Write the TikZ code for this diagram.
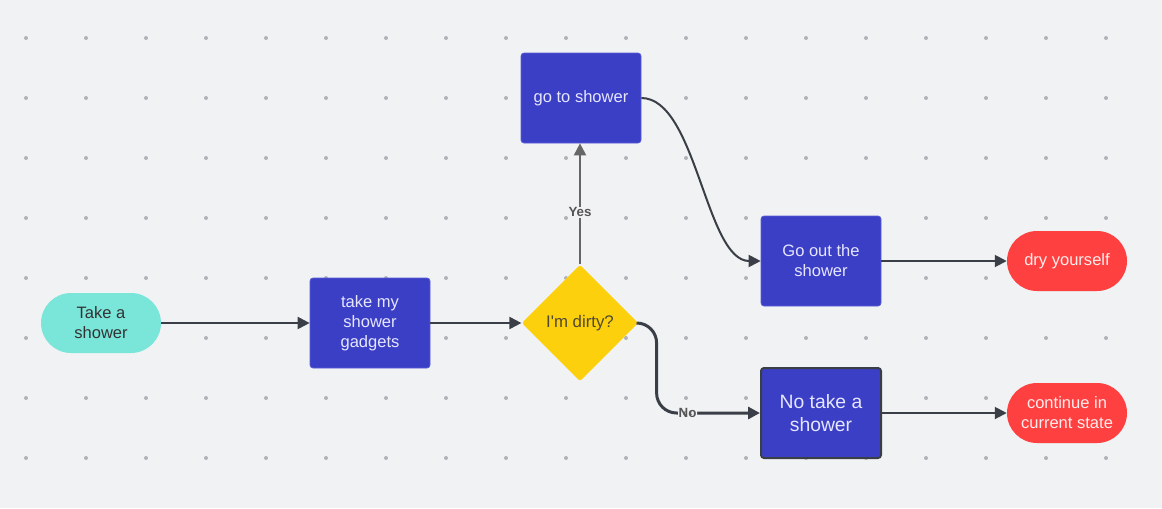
\documentclass[tikz,border=0pt]{standalone}
\usepackage{fontspec}
\setmainfont{Liberation Sans}
\usetikzlibrary{shapes.geometric,arrows.meta}
\definecolor{bgc}{HTML}{F1F2F4}
\definecolor{dotc}{HTML}{B2B3B8}
\definecolor{bluec}{HTML}{3B3FC5}
\definecolor{blueb}{HTML}{5A5ED6}
\definecolor{tealc}{HTML}{7AE6DA}
\definecolor{redc}{HTML}{FF4040}
\definecolor{yelc}{HTML}{FCD00C}
\definecolor{linec}{HTML}{3A3F47}
\definecolor{grayl}{HTML}{666666}
\definecolor{lavt}{HTML}{E6E6FF}
\definecolor{darkt}{HTML}{333333}
\definecolor{olivet}{HTML}{4F4A30}
\definecolor{redt}{HTML}{FFECEC}
\definecolor{lblt}{HTML}{555555}
\begin{document}
\begin{tikzpicture}[x=0.75pt,y=-0.75pt,
  proc/.style={rectangle,fill=bluec,draw=blueb,line width=0.5pt,rounded corners=2.25pt,
    minimum width=90pt,minimum height=67.5pt,inner sep=0pt,align=center,text=lavt,
    font=\fontsize{12.4}{15}\selectfont},
  termt/.style={rectangle,fill=tealc,rounded corners=22.5pt,minimum width=90pt,minimum height=45pt,
    inner sep=0pt,align=center,text=darkt,font=\fontsize{12.4}{15}\selectfont},
  termr/.style={rectangle,fill=redc,rounded corners=22.5pt,minimum width=90pt,minimum height=45pt,
    inner sep=0pt,align=center,text=redt,font=\fontsize{12.4}{15}\selectfont},
  dec/.style={diamond,aspect=1,fill=yelc,rounded corners=2pt,minimum width=87.5pt,minimum height=87.5pt,
    inner sep=0pt,text=olivet,font=\fontsize{12.6}{15}\selectfont},
  conn/.style={draw=linec,line width=1.5pt,-{Triangle[length=9pt,width=9pt]}},
  lbl/.style={fill=bgc,inner sep=0.5pt,text=lblt,font=\bfseries\fontsize{10}{12}\selectfont}
]
\fill[bgc] (0,0) rectangle (1162,508);
\useasboundingbox (0,0) rectangle (1162,508);
\foreach \i in {0,...,18}{
  \foreach \j in {0,...,7}{
    \fill[dotc] ({26+60*\i},{38+60*\j}) circle (1.5pt);
  }
}
\node[termt] (start) at (101,323) {Take a\\shower};
\node[proc] (gadg) at (370,323) {take my\\shower\\gadgets};
\node[dec] (dirty) at (580,323) {I\textquotesingle m dirty?};
\node[proc] (go) at (581,98) {go to shower};
\node[proc] (out) at (821,261) {Go out the\\shower};
\node[proc,draw=linec,line width=1.5pt,font=\fontsize{14.5}{17}\selectfont] (no) at (821,413) {No take a\\shower};
\node[termr] (dry) at (1067,261) {dry yourself};
\node[termr] (cont) at (1067,413) {continue in\\current state};

\draw[conn] (start) -- (gadg);
\draw[conn] (gadg) -- (dirty);
\draw[conn,draw=grayl,-{Triangle[length=9pt,width=9pt,fill=grayl]}] (dirty.north) -- node[lbl,pos=0.43] {Yes} (dirty.north |- go.south);
\draw[conn] (go.east) .. controls +(55,0) and +(-55,0) .. (out.west);
\draw[conn,line width=2.25pt,rounded corners=15pt] (dirty.east) -- ++(18,0) |- node[lbl,pos=0.65] {No} (no.west);
\draw[conn] (out) -- (dry);
\draw[conn] (no) -- (cont);
\end{tikzpicture}
\end{document}
